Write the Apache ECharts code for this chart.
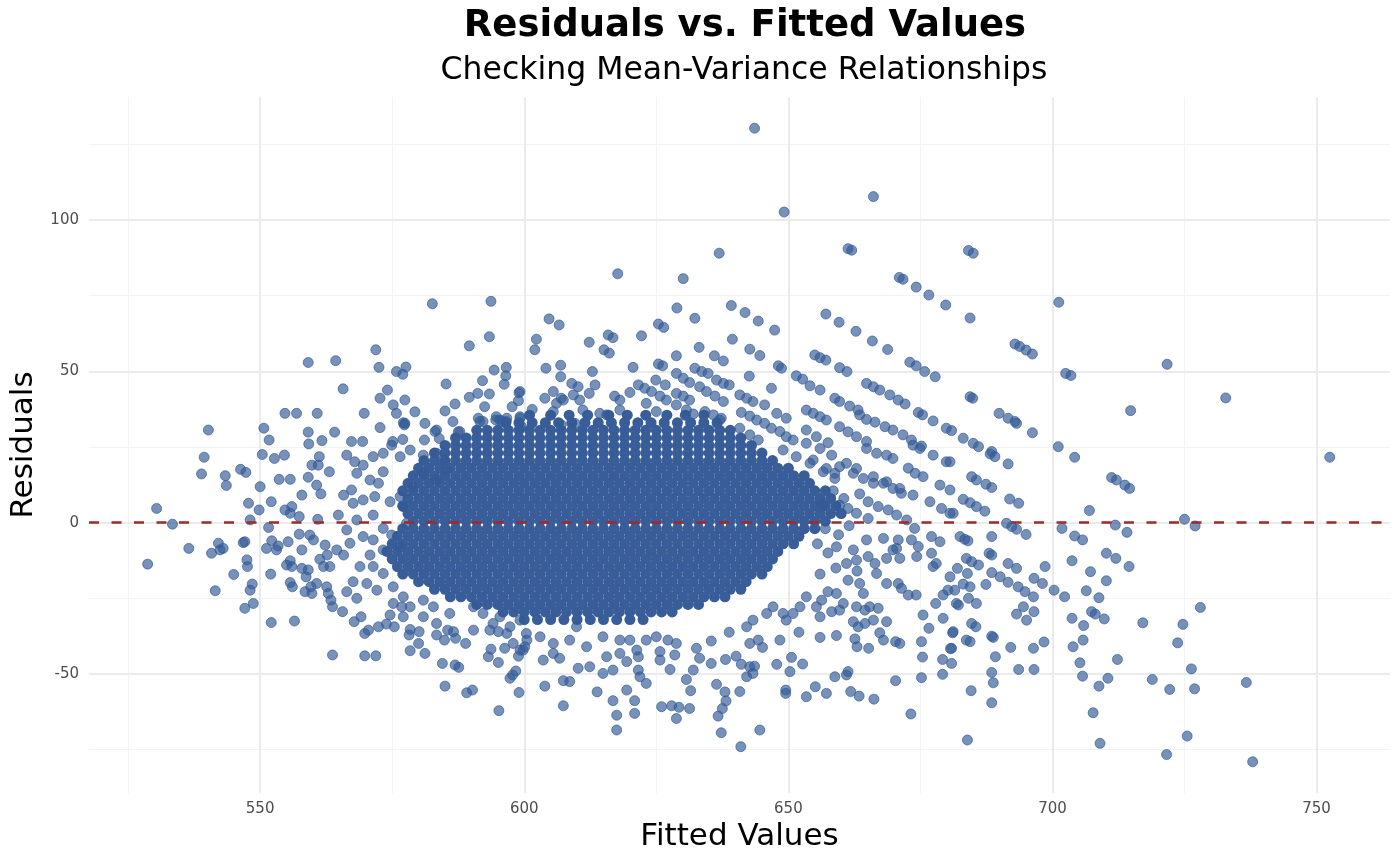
<!DOCTYPE html>
<html>
<head>
<meta charset="utf-8">
<script src="https://cdn.jsdelivr.net/npm/echarts@6/dist/echarts.min.js"></script>
<style>
  html, body { margin: 0; padding: 0; background: #fff; }
  #graph { width: 1400px; height: 865px; }
</style>
</head>
<body>
<div id="graph"></div>
<script>
// tick positions
const xTicks = [550, 600, 650, 700, 750];
const xMinor = [525, 575, 625, 675, 725];
const yTicks = [-50, 0, 50, 100];
const yMinor = [-75, -25, 25, 75, 125];

// sparse points above / left of the main cloud  [fitted, residual]
const upperLeft = [
  [582.6,72.3],[593.7,73.1],[593.4,61.4],[589.6,58.4],[571.9,57.1],[559.1,52.9],[564.3,53.5],[572.5,51.3],
  [575.8,49.9],[577,49],[577.6,51.4],[594.3,50.4],[596.6,51.3],[596.5,48.5],[596.2,45.7],[585.2,45.8],
  [592.1,46.9],[565.7,44.2],[574.1,43.8],[572.7,41.1],[577.4,40.5],[589.6,41.4],[591.2,42.7],[593.4,42.5],
  [599,42.9],[586.9,39.2],[575.2,38.9],[575.8,36.1],[579.3,36.6],[585,36.9],[592.5,38.3],[597.7,38.3],
  [598.9,40.3],[554.7,36.1],[556.9,36.1],[560.8,36.1],[569.7,36.1],[540.2,30.6],[550.7,31.2],[551.7,27.3],
  [559.1,29.9],[564.1,29.9],[559.2,26],[561.7,27.1],[572.7,31.4],[577.1,33],[577.3,32.3],[581.2,32.8],
  [586.5,33.4],[583.4,30.6],[587.5,30],[591.3,34.5],[591.6,33.4],[594.6,33.9],[595.8,33.4],[596.7,34.5],
  [599.2,34.5],[599.2,31.2],[567.3,26.8],[569.4,26.8],[575.1,26.8],[577,27.5],[581.1,27.3],[583.9,27.8]
];

// top fringe of the dense cloud
const edgePoints = [
  [577.4,32.8],[583.1,30.1],[587.8,30.1],[592.2,33.4],[594.7,35],[595.4,33.9],[596.6,33.4],[599.2,35],
  [599.5,31.7],[605.5,36.7],[606.1,39.4],[607,41.1],[607,32.3],[609.3,42.2],[609.6,32.8],[610.5,40.5],
  [611.1,37.2],[614.3,36.1],[615.6,35.6],[618.1,37.2],[623.1,39.4],[625,36.7],[626.9,40.5]
];

const leftPoints = [
  [539.4,21.6],[538.9,16.1],[543.4,15.5],[543.6,12.3],[546.3,17.6],[547.3,16.6],[550.4,22.5],[552.7,21.2],
  [554.6,22.3],[550,11.9],[553.6,14.3],[555.7,14.3],[559.1,15],[559.8,19],[561.2,21.8],[561,19],
  [563.1,16.8],[560.7,12.4],[561.5,9.5],[557.9,9.1],[547.8,6.4],[549.8,4.2],[552.1,6.9],[530.4,4.7],
  [533.4,-0.5],[548.1,0.9],[551.6,-1.6],[554.7,4.2],[556,5.3],[555.7,3.1],[557.4,2],[560.9,1.1],
  [536.5,-8.5],[528.7,-13.7],[540.8,-10.1],[542.1,-6.8],[543,-8.5],[542.4,-9],[546.8,-6.6],[547.1,-6.3],
  [547.5,-12.3],[547.6,-14.5],[545,-17.1],[541.5,-22.5],[548.5,-20.3],[548.1,-22.3],[548.7,-26.7],[547.1,-28.3],
  [552.1,-33],[556.5,-32.5],[551.2,-8.5],[552.2,-6],[553.4,-7.7],[553.1,-9],[552,-17],[555.3,-6.3],
  [557.9,-9],[557.4,-3.8],[559.4,-4.1],[560.1,-5.7],[555,-14],[555.7,-12.6],[556,-14.5],[555.7,-19.8],
  [556.1,-21.2],[557.9,-15.1],[559.1,-15.6],[558.7,-17.9],[558.5,-22.8],[559.8,-23.4],[559.6,-21.2],[560.7,-20.1],
  [562.6,-21.2],[562.9,-23.4],[563.4,-25.6],[563.7,-27.8],[565.6,-29.4],[561.3,-12.1],[562.3,-7.4],[562.7,-10.7],
  [563.2,-14.5],[562,-14.5],[563.7,-43.7],[569.8,-44],[571.9,-44],[567.8,-32.7],[569.1,-31.1],[569.8,-36.6],
  [570.5,-35.5],[572.4,-34.4],[573.9,-33.5],[575.4,-34.4],[574.6,-30.5],[576.8,-27.8],[577.1,-31.1],[575.2,-26.7],
  [578.4,-35.3],[580.1,-36],[578.2,-37.1],[580,-39.9],[578.4,-42.3],[581.2,-43.2],[583.4,-33.3],[583.4,-37.1],
  [584.9,-38.8],[585.5,-35.5],[586.6,-36],[587,-38.2],[588.9,-39.9],[584.5,-46.5],[586.9,-47],[587.6,-47.8],
  [585,-54],[589.1,-56.2],[590.2,-55.3],[595.2,-62.1],[593.2,-44.3],[593.7,-41.8],[595.1,-46.2],[598.9,-44.1],
  [597.3,-51.4],[597.8,-50.3],[598.4,-49],[599,-56.1],[596.3,-41.5],[599.8,-42.1],[590.4,-35.5],[593.5,-35.5],
  [595.1,-36],[596.7,-36.6],
  // thinner edge of the cloud on the left
  [566.4,22.3],[567.9,20.1],[569.5,19],[571.4,21.8],[573.3,22.9],[574.9,25.6],[576.5,21.8],[578.4,24],
  [580.9,22.3],[583.4,22.9],[584.7,20.7],[585.3,17.4],[580.9,16.3],[583.4,14.1],[579,11.9],[576.5,8.6],
  [574.6,6.9],[577.1,5.3],[573.3,16.8],[572.4,13],[570.8,14.1],[568.3,16.3],[567.3,10.8],[565.8,9.1],
  [564.8,2.5],[567.6,6.4],[569.5,7.5],[571.7,8.6],[571.4,2.5],[568.3,0.9],[566.4,-2.4],[569.5,-4.6],
  [571.4,-5.7],[573.3,-1.9],[574.9,-4.1],[577.7,-0.2],[576.5,-7.9],[573.3,-9],[570.8,-10.7],[568.9,-14.5],
  [571.4,-14.5],[573.3,-16.8],[570.2,-20.1],[567.6,-19.5],[566.4,-22.8],[568.3,-25],[572.1,-22.3],[575.2,-21.2],
  [577.1,-24.5],[578.4,-27.8],[580.9,-25.6],[564.5,-9],[565.8,-10.7],[567,-6.8],[580.9,-31.1],[582.8,-27.8],
  [585.9,-30],[590.4,-27.8],[594.1,-33.3],[597.3,-34.4],[592.2,-30],[595.4,-31.1],[599.2,-32.2],[600.5,-38.8],
  [597.9,-39.9]
];

// points above the cloud in the middle, with the diagonal streaks
const upperMid = [
  [643.6,130.3],[649.2,102.6],[666.1,107.7],[661.3,90.5],[662,90],[636.9,89],[617.7,82.2],[630.1,80.6],
  [671,81],[671.7,80.4],[674.2,77.8],[676.6,75.2],[679.8,71.9],[628.9,70.9],[632.3,67.5],[639.2,71.7],
  [641.8,69.4],[644.3,66.6],[647.4,63.6],[639.4,60.6],[642.7,57.3],[644.6,55.2],[657.1,68.9],[659.6,66.2],
  [662.8,63.2],[665.9,60],[668.8,57.2],[673,53],[674.2,51.8],[675.8,49.9],[677.8,48.2],[655,55.4],
  [656,54.5],[657.1,53.7],[659.7,51.2],[661.1,49.9],[664.8,46],[666.1,44.9],[667.3,43.8],[669.2,42.2],
  [670.8,40.5],[672.1,39.2],[674.6,36.4],[675.4,35.6],[677.4,33.6],[679.9,31.2],[680.9,30.4],[651.5,48.5],
  [652.7,47.4],[654.1,45.2],[656,43.8],[658.8,41.1],[659.7,40],[661.6,38.5],[663.2,37.2],[663.5,35.6],
  [664.8,34.1],[666.4,33.2],[668.3,31.7],[669.8,30.6],[671.7,29],[673.3,27.3],[675.2,25.3],[653.4,37.2],
  [654.7,36.1],[656,35],[657.2,33.9],[659.7,31.7],[661.3,30],[662.9,28.4],[664.8,26.8],[653.4,30.6],
  [655.3,28.4],[657.5,26.4],[647.8,36.1],[649.6,34.5],[648.1,51.8],[648.7,51],[646.8,44.4],[642.6,48.4],
  [640.8,42.2],[642.1,41.1],[643.3,40],[645.5,38.9],[641.1,36.4],[642.7,35.2],[644,33.9],[645.5,32.8],
  [646.8,31.2],[648.4,30.1],[649.6,28.4],[650.9,27.3],[640.8,31.2],[642.7,29],[644.3,27.3],[636,55.1],
  [637.7,53.4],[632.3,51],[633.6,49.9],[634.8,49.3],[636.4,47.1],[637.7,46],[638.8,45.5],[628.8,49.3],
  [630.1,47.7],[631.3,46.3],[633.2,44.9],[634.5,43.3],[636.1,41.8],[637.7,40],[637.3,34.5],[628.8,42.7],
  [630.1,41.8],[631.3,40.5],[634.2,36.7],[635.8,35.6],[637,33.9],[628.8,38.9],[630.7,37.2],[632,35.9],
  [633.1,57.9],[628.8,55.1],[625.4,65.6],[626.4,64.5],[622.2,61.7],[620.6,51.3],[625.4,52.4],[626.2,51.8],
  [624.9,47.1],[626.7,45.5],[615.9,62],[616.8,61.1],[612.3,59.6],[615.1,57.1],[616.1,56],[612.9,49.9],
  [604.7,67.3],[606.6,65.3],[602.3,60.6],[602,57.1],[604.1,51],[606.9,52],[606.9,48.2],[609,46],
  [610.2,44.9],[613.4,45.5],[612.3,42.7],[620,43],[617.1,41.8],[618.1,40.5],[621.6,45.5],[622.8,44.4],
  [624.1,43.3],[625.7,41.8],[603.9,41.1],[605.5,43.3],[607.4,40.5],[601.5,37.4],[599.2,43.3]
];

// right-hand tail
const rightPoints = [
  [684.1,89.9],[685,89],[701.2,72.8],[684.4,67.6],[692.9,59],[693.8,58.2],[695,57],[696.2,55.7],
  [721.7,52.3],[702.5,49.3],[703.5,48.6],[732.8,41.2],[684.4,41.6],[684.9,41.1],[714.8,37],[689.9,36.1],
  [691.6,34.5],[692.9,33.4],[693.2,32.8],[696.2,29.7],[683.1,27.9],[685,26.2],[686,25.1],[688.5,23.5],
  [701.1,25.1],[752.5,21.6],[704.2,21.6],[688.2,22.7],[689.1,21.8],[691.6,19.4],[711.2,14.9],[712.1,14.1],
  [713.7,12.4],[714.6,11.3],[684.7,15.2],[685.6,14.1],[687.4,12.7],[688.5,11.6],[691.9,7.8],[693.6,6.4],
  [683.1,7.7],[684.4,6.6],[685.6,5.3],[687.2,3.8],[680.6,10.8],[680.6,3.1],[707,4],[691.3,-0.2],
  [692.3,-1.3],[693.2,-2.2],[695,-3.9],[688.5,-4.6],[682.5,-4.6],[683.4,-5.5],[684,-6],[701.8,-1.9],
  [704.2,-4.4],[705.7,-5.7],[711.9,-0.8],[714.1,-3.2],[725,1.1],[727,-1.1],[688,-10.1],[688.5,-10.7],
  [683.7,-11.8],[684.7,-12.9],[686,-14],[682,-15.1],[680.6,-17.9],[691.6,-13.5],[693.2,-15.1],[698.6,-14.5],
  [703.7,-12.6],[710.2,-10.1],[712,-11.8],[714.5,-14.5],[683.9,-16.8],[683.1,-20.3],[684.4,-21.2],[681.5,-22.3],
  [684.1,-25],[685.6,-26.7],[682.2,-27.2],[687.4,-20.4],[688.5,-16.5],[690.1,-17.9],[691.6,-19.7],[693.5,-21.2],
  [694.8,-22.8],[696.4,-24.5],[696.5,-18.4],[698.1,-20.1],[700.3,-22.3],[702.3,-24.5],[707.2,-16.2],[710.2,-19.2],
  [706.4,-22.5],[708.8,-24.8],[694.5,-27.8],[695.1,-32.2],[693.2,-30.2],[696.5,-29.4],[707.4,-29.4],[708.1,-30.2],
  [709.8,-31.8],[703.7,-31.6],[705.9,-34],[705.8,-38.8],[703.9,-41],[705.2,-46.3],[705.7,-50.7],[712.3,-45.2],
  [710.5,-51.4],[708.8,-54],[707.7,-62.8],[709,-72.9],[717.1,-33.1],[724.7,-33.6],[723.7,-39.7],[728,-28],
  [726.3,-48.3],[718.9,-51.8],[722.2,-55.1],[726.9,-54.9],[736.7,-52.8],[725.5,-70.5],[721.6,-76.6],[737.9,-79],
  [683.9,-71.8],[688.5,-59.5],[684.6,-55.5],[688.5,-49.5],[688.8,-52.9],[693.6,-48.5],[696.5,-48.5],[692.1,-41.2],
  [696.4,-41.5],[698.4,-39.4],[689.2,-44.3],[688.5,-37.5],[688.8,-37.9],[683.7,-38.8],[684.4,-39.3],[684.7,-33.3],
  [685.5,-34.4],[681.2,-36],[680.9,-41.5],[680.9,-46.5],[680.6,20.1]
];

// below the cloud
const lowerPoints = [
  [603.9,-54],[607.4,-60.5],[607.4,-52.2],[608.6,-52.5],[613.8,-55.9],[616.8,-58.8],[617.5,-63.6],[617.5,-68.5],
  [619.4,-55.3],[620.9,-58.8],[620.9,-63],[626,-60.8],[627.9,-60.5],[629.3,-61],[631.3,-61.4],[628.8,-64.7],
  [636.4,-53.4],[638,-55.9],[638.2,-58.9],[637.5,-61.4],[636.7,-63.9],[637.3,-69.4],[640.8,-55.8],[641,-74],
  [644.6,-68.5],[630.7,-51.8],[631.5,-55.5],[632,-48.7],[633.2,-44.8],[632.6,-41.5],[635.4,-46.5],[638.1,-45.2],
  [640.1,-44.1],[641.1,-46.8],[642.7,-47.6],[643.3,-49.8],[642.1,-50.9],[643.6,-47.4],[647.8,-46.8],[650.6,-44.5],
  [650.3,-49.2],[652.7,-46.7],[649.5,-55.3],[649.5,-56.4],[653.4,-57.5],[655.1,-54.2],[657.2,-56.4],[658.8,-50.9],
  [661,-50.3],[661.3,-49.2],[661.8,-55.8],[663.4,-57.3],[666.2,-58.3],[670.3,-52.2],[673.2,-63.2],[675.2,-51.2],
  [675.4,-44.4],[675.2,-39.3],[679.2,-50.1],[679.2,-45.2],[680.7,-41.6],[681.1,-36.4],[656,-37.9],[659.1,-37.3],
  [662.6,-38.4],[663,-41],[665.2,-41.5],[652,-36.2],[648.4,-38.8],[645.1,-41.2],[644.3,-38.8],[642.7,-39.9],
  [635.4,-39.1],[638.8,-36.2],[642.1,-34.4],[643.3,-32.2],[668.6,-32.7],[667.3,-36.4],[668,-38.8],[670.3,-39.3],
  [671.1,-39.9],[662.3,-32.7],[663.2,-34.4],[664.5,-33.3],[666.1,-32.2],[675.5,-30.5],[676.6,-34.9],[679.3,-31.6],
  [677.9,-26.7],[679.3,-23.9],[680.2,-22.3],[681.8,-26.7],
  [599.2,-42.1],[600.1,-41],[603.6,-45.4],[606.7,-44.8],[605.5,-43.2],[610.2,-48.1],[612.4,-47.6],[614.9,-49.8],
  [616.8,-48.7],[615.6,-44.3],[618.1,-43.2],[619.4,-45.9],[621.6,-48.7],[621.9,-50.9],[623.1,-53.1],[621.6,-44.3],
  [625.7,-42.6],[627.6,-48.5],[628.5,-43.7],[625.7,-45.4],[628.8,-39.9],[627.2,-38.8],[625,-37.7],[623.1,-38.8],
  [621.3,-42.1],[620,-38.8],[618.1,-38.8],[614.9,-37.7],[611.8,-41],[608.6,-38.8],[605.5,-39.9],[603,-37.7],
  [600.4,-36.6],[609.9,-34.4]
];

// streaks just right of the dense cloud
const streakPoints = [
  [664.8,24.5],[666.7,22.9],[668.6,22.3],[669.8,21.2],[673.6,25.6],[674.9,24.5],[677.4,22.3],[679.9,20.1],
  [672.7,18],[674,16.3],[675.5,15.2],[678.7,12.4],[676.8,6.9],[679,4.7],[681.2,3.1],[665.1,6.9],
  [667,5.3],[668.9,4.2],[670.5,2.5],[672.4,0.9],[673.9,-1.9],[668,13],[669.8,11.3],[671.4,9.7],
  [659.7,18.5],[662.3,16.3],[664.2,14.6],[666.1,13],[659.7,5.8],[661.3,4.7],[662.9,3.1],[665.1,1.4],
  [654.7,20.7],[657.2,17.9],[658.8,16.3],[649,24],[651.5,21.8],[654.1,19.6],[656.6,16.8],[658.8,14.6],
  [653.4,26.2],[656,24.5],[658.2,22.3],[661,19.6],[662.9,17.9],[666.1,15.2],[668.6,13.5],[671.1,11.3],
  [673.6,9.1],[677.1,-4.6],[678.7,-6.3],[673.3,-5.7],[674.6,-7.9],[674.3,-11.2],[677.1,-10.1],[678,-13.5],
  [677.4,-14.5],[668,-5.2],[670.8,-5.7],[669.8,-9],[668.6,-11.8],[671.1,-11.8],[670.5,-8.5],[665.1,-11.2],
  [666.4,-13.5],[666.7,-16.8],[668.6,-20.1],[670.8,-20.1],[671.4,-21.7],[672.7,-23.9],[674.2,-23.9],[661.3,-19],
  [663.5,-20.1],[664.2,-23.4],[665.4,-27.8],[667,-28.3],[664.5,-28.9],[662.9,-27.8],[659.1,-23.4],[657.5,-22.8],
  [656.3,-25.6],[655.3,-27.8],[656,-31.1],[658.2,-29.4],[659.7,-28.9],[660.4,-26.7],[653.4,-24.5],[652.2,-27.8],
  [650.9,-30],[649.6,-32.2],[649,-30],[647.1,-27.8],[645.9,-30],[662.3,-9],[662.9,-12.4],[664.8,-5.7],
  [661,-13.5],[659.1,-8],[657,-2],[659.5,-4],[661.5,-1],[657.5,-10],[659,-15],[656,-17],
  [655.5,-7],[663,-16],[660.5,8],[663.5,9.5],[658.5,10.5],[656.5,6]
];

// dense cloud, read row by row: [residual, fitted values...]
const coreRows = [
  [35.5, [601,605,608.5,612,616,619.5,623,627,630.5,634]],
  [33, [596.5,599,601.5,604,606.5,609,611.5,614,616.5,619,621.5,624,626.5,629,631.5,634,636.5]],
  [30.5, [591,593,595,597,599,601,603,605,607,609,611,613,615,617,619,621,623,625,627,629,631,633,635,637,639]],
  [28, [587,589,591,593,595,597,599,601,603,605,607,609,611,613,615,617,619,621,623,625,627,629,631,633,635,637,639,641]],
  [25.5, [585,587,589,591,593,595,597,599,601,603,605,607,609,611,613,615,617,619,621,623,625,627,629,631,633,635,637,639,641,643]],
  [23, [583,585,587,589,591,593,595,597,599,601,603,605,607,609,611,613,615,617,619,621,623,625,627,629,631,633,635,637,639,641,643,645]],
  [20.5, [581,583,585,587,589,591,593,595,597,599,601,603,605,607,609,611,613,615,617,619,621,623,625,627,629,631,633,635,637,639,641,643,645,647]],
  [18, [580,582,584,586,588,590,592,594,596,598,600,602,604,606,608,610,612,614,616,618,620,622,624,626,628,630,632,634,636,638,640,642,644,646,648,650]],
  [15.5, [579,581,583,585,587,589,591,593,595,597,599,601,603,605,607,609,611,613,615,617,619,621,623,625,627,629,631,633,635,637,639,641,643,645,647,649,651,653]],
  [13, [578,580,582,584,586,588,590,592,594,596,598,600,602,604,606,608,610,612,614,616,618,620,622,624,626,628,630,632,634,636,638,640,642,644,646,648,650,652,654]],
  [10.5, [577,579,581,583,585,587,589,591,593,595,597,599,601,603,605,607,609,611,613,615,617,619,621,623,625,627,629,631,633,635,637,639,641,643,645,647,649,651,653,655,657]],
  [8, [578,580,582,584,586,588,590,592,594,596,598,600,602,604,606,608,610,612,614,616,618,620,622,624,626,628,630,632,634,636,638,640,642,644,646,648,650,652,654,656,658]],
  [5.5, [577,579,581,583,585,587,589,591,593,595,597,599,601,603,605,607,609,611,613,615,617,619,621,623,625,627,629,631,633,635,637,639,641,643,645,647,649,651,653,655,657,659]],
  [3, [578,580,582,584,586,588,590,592,594,596,598,600,602,604,606,608,610,612,614,616,618,620,622,624,626,628,630,632,634,636,638,640,642,644,646,648,650,652,654,656,658,660]],
  [0.5, [579,581,583,585,587,589,591,593,595,597,599,601,603,605,607,609,611,613,615,617,619,621,623,625,627,629,631,633,635,637,639,641,643,645,647,649,651,653,655,657]],
  [-2, [577,579,581,583,585,587,589,591,593,595,597,599,601,603,605,607,609,611,613,615,617,619,621,623,625,627,629,631,633,635,637,639,641,643,645,647,649,651,653,655]],
  [-4.5, [576,578,580,582,584,586,588,590,592,594,596,598,600,602,604,606,608,610,612,614,616,618,620,622,624,626,628,630,632,634,636,638,640,642,644,646,648,650,652]],
  [-7, [575,577,579,581,583,585,587,589,591,593,595,597,599,601,603,605,607,609,611,613,615,617,619,621,623,625,627,629,631,633,635,637,639,641,643,645,647,649,651]],
  [-9.5, [574,576,578,580,582,584,586,588,590,592,594,596,598,600,602,604,606,608,610,612,614,616,618,620,622,624,626,628,630,632,634,636,638,640,642,644,646,648]],
  [-12, [575,577,579,581,583,585,587,589,591,593,595,597,599,601,603,605,607,609,611,613,615,617,619,621,623,625,627,629,631,633,635,637,639,641,643,645,647]],
  [-14.5, [576,578,580,582,584,586,588,590,592,594,596,598,600,602,604,606,608,610,612,614,616,618,620,622,624,626,628,630,632,634,636,638,640,642,644,646]],
  [-17, [577,579,581,583,585,587,589,591,593,595,597,599,601,603,605,607,609,611,613,615,617,619,621,623,625,627,629,631,633,635,637,639,641,643,645]],
  [-19.5, [580,582,584,586,588,590,592,594,596,598,600,602,604,606,608,610,612,614,616,618,620,622,624,626,628,630,632,634,636,638,640,642]],
  [-22, [583,585,587,589,591,593,595,597,599,601,603,605,607,609,611,613,615,617,619,621,623,625,627,629,631,633,635,637,639,641]],
  [-24.5, [586,588,590,592,594,596,598,600,602,604,606,608,610,612,614,616,618,620,622,624,626,628,630,632,634,636,638]],
  [-27, [591,593,595,597,599,601,603,605,607,609,611,613,615,617,619,621,623,625,627,629,631,633]],
  [-29.5, [596,598,600,602,604,606,608,610,612,614,616,618,620,622,624,626,628]],
  [-32, [600,602.5,605,607.5,610,612.5,615,617.5,620,622.5]]
];

const corePoints = [];
coreRows.forEach(([r, fs]) => fs.forEach(f => corePoints.push([f, r])));

const loosePoints = [].concat(upperLeft, edgePoints, leftPoints, upperMid, rightPoints, lowerPoints, streakPoints);

const myChart = echarts.init(document.getElementById('graph'));

const fontFamily = 'DejaVu Sans';
const gridLines = [].concat(
  xMinor.map(v => ({ xAxis: v, lineStyle: { color: '#f3f3f3', width: 1.1, type: 'solid' } })),
  yMinor.map(v => ({ yAxis: v, lineStyle: { color: '#f3f3f3', width: 1.1, type: 'solid' } })),
  xTicks.map(v => ({ xAxis: v, lineStyle: { color: '#ebebeb', width: 2, type: 'solid' } })),
  yTicks.map(v => ({ yAxis: v, lineStyle: { color: '#ebebeb', width: 2, type: 'solid' } }))
);

const pointColor = 'rgba(52, 91, 150, 0.84)';

let option = {
  animation: false,
  backgroundColor: '#ffffff',
  title: [
    {
      text: 'Residuals vs. Fitted Values',
      left: 740, top: 3, textAlign: 'center',
      textStyle: { fontFamily, fontWeight: 'bold', fontSize: 37, color: '#000' }
    },
    {
      text: 'Checking Mean-Variance Relationships',
      left: 739, top: 50, textAlign: 'center',
      textStyle: { fontFamily, fontWeight: 'normal', fontSize: 31.5, color: '#000' }
    }
  ],
  grid: { left: 88, right: 10, top: 97, bottom: 72 },
  xAxis: {
    type: 'value',
    min: 517.6,
    max: 763.9,
    name: 'Fitted Values',
    nameLocation: 'middle',
    nameGap: 27,
    nameTextStyle: { fontFamily, fontSize: 31, color: '#000' },
    axisLine: { show: false },
    axisTick: { show: false },
    splitLine: { show: false },
    axisLabel: { customValues: xTicks, fontFamily, fontSize: 15, color: '#4d4d4d', margin: 9 }
  },
  yAxis: {
    type: 'value',
    min: -89.3,
    max: 140.6,
    name: 'Residuals',
    nameLocation: 'middle',
    nameGap: 50,
    nameTextStyle: { fontFamily, fontSize: 31, color: '#000' },
    axisLine: { show: false },
    axisTick: { show: false },
    splitLine: { show: false },
    axisLabel: { customValues: yTicks, fontFamily, fontSize: 15, color: '#4d4d4d', margin: 10 }
  },
  series: [
    {
      type: 'scatter',
      data: [],
      z: 0,
      silent: true,
      markLine: {
        z: 0,
        silent: true,
        symbol: ['none', 'none'],
        label: { show: false },
        animation: false,
        data: gridLines
      }
    },
    {
      // many overlapping points in the middle of the cloud
      type: 'scatter',
      data: corePoints,
      z: 2,
      symbolSize: 11,
      itemStyle: { color: '#385d98', opacity: 1 }
    },
    {
      type: 'scatter',
      data: loosePoints,
      z: 3,
      symbolSize: 10,
      itemStyle: {
        color: pointColor,
        borderColor: pointColor,
        borderWidth: 1
      }
    },
    {
      type: 'scatter',
      data: [],
      z: 5,
      silent: true,
      markLine: {
        z: 5,
        silent: true,
        symbol: ['none', 'none'],
        label: { show: false },
        animation: false,
        lineStyle: { color: '#a1292a', width: 2.6, type: [10, 12.5] },
        data: [{ yAxis: 0 }]
      }
    }
  ]
};

myChart.setOption(option);
</script>
</body>
</html>
